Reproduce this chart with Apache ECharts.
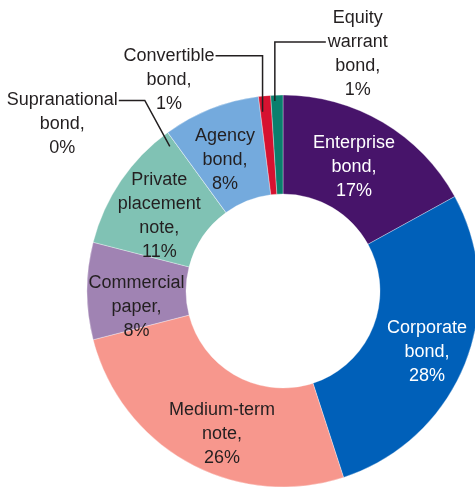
<!DOCTYPE html>
<html>
<head>
<meta charset="utf-8">
<style>
  html, body { margin: 0; padding: 0; background: #ffffff; }
  #chart { width: 475px; height: 490px; }
</style>
<script src="https://cdn.jsdelivr.net/npm/echarts@6/dist/echarts.min.js"></script>
</head>
<body>
<div id="chart"></div>
<script>
// Bond issuance by type, share of total (%), clockwise from 12 o'clock
const categories = [
  'Enterprise bond',
  'Corporate bond',
  'Medium-term note',
  'Commercial paper',
  'Private placement note',
  'Supranational bond',
  'Agency bond',
  'Convertible bond',
  'Equity warrant bond'
];
const shares = [17, 28, 26, 8, 11, 0, 8, 1, 1];

// Label text broken into lines
const labelLines = [
  ['Enterprise', 'bond,'],
  ['Corporate', 'bond,'],
  ['Medium-term', 'note,'],
  ['Commercial', 'paper,'],
  ['Private', 'placement', 'note,'],
  ['Supranational', 'bond,'],
  ['Agency', 'bond,'],
  ['Convertible', 'bond,'],
  ['Equity', 'warrant', 'bond,']
];

const colors = ['#47146a', '#0060b9', '#f7978d', '#a083b3', '#80c2b4',
                '#80c2b4', '#74aadd', '#d61230', '#0a7f6d'];
const textColors = ['#ffffff', '#ffffff', '#231f20', '#231f20', '#231f20',
                    '#231f20', '#231f20', '#231f20', '#231f20'];
const outsideItems = [5, 7, 8];

const FONT = '"Liberation Sans", Arial, sans-serif';
const CENTER = [283, 291];
const RADIUS = [97, 196];

// small per-slice nudges for the inside labels
const insideOffsets = {
  0: [-5, 5], 1: [5, 6], 2: [11, 12], 3: [3, 16], 4: [0, 9], 6: [-3, 8]
};

const labelText = p => labelLines[p.dataIndex].concat([p.value + '%']).join('\n');

// the coloured ring
const ringData = categories.map((name, i) => ({
  name: name,
  value: shares[i],
  itemStyle: { color: colors[i] }
}));

// transparent overlay carrying every label, so callout leaders draw above the ring
const labelData = categories.map((name, i) => {
  const outside = outsideItems.indexOf(i) >= 0;
  return {
    name: name,
    value: shares[i],
    label: {
      position: outside ? 'outside' : 'inside',
      color: textColors[i],
      offset: insideOffsets[i] || [0, 0]
    },
    labelLine: { show: outside }
  };
});

const chart = echarts.init(document.getElementById('chart'), null, { renderer: 'canvas' });

chart.setOption({
  animation: false,
  backgroundColor: '#ffffff',
  series: [{
    type: 'pie',
    center: CENTER,
    radius: RADIUS,
    startAngle: 90,
    clockwise: true,
    silent: true,
    itemStyle: { borderColor: 'rgba(255,255,255,0.55)', borderWidth: 0.6 },
    label: { show: false },
    labelLine: { show: false },
    data: ringData
  }, {
    type: 'pie',
    z: 5,
    center: CENTER,
    radius: RADIUS,
    startAngle: 90,
    clockwise: true,
    avoidLabelOverlap: false,
    minShowLabelAngle: -1,
    silent: true,
    itemStyle: { color: 'rgba(0,0,0,0)', borderWidth: 0 },
    label: {
      show: true,
      fontFamily: FONT,
      fontSize: 18,
      lineHeight: 24,
      align: 'center',
      formatter: labelText
    },
    labelLine: {
      show: false,
      length: 30,
      length2: 30,
      lineStyle: { color: '#231f20', width: 1.5 }
    },
    labelLayout: function (params) {
      const i = params.dataIndex;
      if (outsideItems.indexOf(i) < 0 || !params.labelLinePoints) return {};
      const p0 = params.labelLinePoints[0];
      const w = params.labelRect.width;
      if (i === 7) {
        // Convertible: vertical stem, elbow to the left, anchored on first line
        const start = [p0[0] - 2, p0[1] + 16];
        const elbow = [start[0], start[1] - 56];
        const end = [elbow[0] - 47, elbow[1]];
        return {
          x: end[0] - 1 - w / 2, y: end[1] - 12, align: 'center', verticalAlign: 'top',
          labelLinePoints: [start, elbow, end]
        };
      }
      if (i === 8) {
        // Equity warrant: vertical stem, elbow to the right, anchored on second line
        const start = [p0[0] - 2, p0[1] + 6];
        const elbow = [start[0], start[1] - 59];
        const end = [elbow[0] + 51, elbow[1]];
        return {
          x: end[0] + 2 + w / 2, y: end[1] - 36, align: 'center', verticalAlign: 'top',
          labelLinePoints: [start, elbow, end]
        };
      }
      // Supranational: diagonal stem, elbow to the left, anchored on first line
      const start = [p0[0] + 2, p0[1] + 14];
      const elbow = [start[0] - 25, start[1] - 46];
      const end = [elbow[0] - 26, elbow[1]];
      return {
        x: end[0] - 1 - w / 2, y: end[1] - 12, align: 'center', verticalAlign: 'top',
        labelLinePoints: [start, elbow, end]
      };
    },
    data: labelData
  }]
});
</script>
</body>
</html>
